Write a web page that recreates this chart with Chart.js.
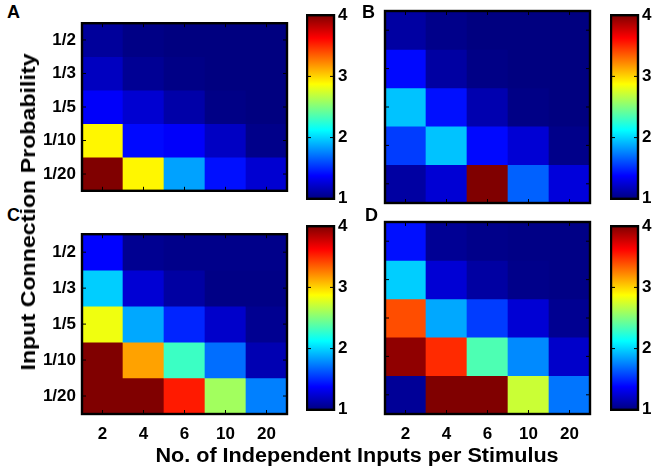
<!DOCTYPE html>
<html><head><meta charset="utf-8">
<script src="https://cdn.jsdelivr.net/npm/chart.js@4.4.0/dist/chart.umd.min.js"></script>
<style>
html,body{margin:0;padding:0;background:#fff;}
#fig{position:relative;width:656px;height:469px;overflow:hidden;font-family:"Liberation Sans",Arial,sans-serif;}
canvas{position:absolute;}
.t{position:absolute;font-weight:bold;color:#000;white-space:nowrap;z-index:5;line-height:1;}
</style></head>
<body>
<div id="fig">
  <canvas id="hA"></canvas><canvas id="cA"></canvas>
  <canvas id="hB"></canvas><canvas id="cB"></canvas>
  <canvas id="hC"></canvas><canvas id="cC"></canvas>
  <canvas id="hD"></canvas><canvas id="cD"></canvas>
  <div class="t" style="left:7px;top:3px;font-size:18px;">A</div>
  <div class="t" style="left:362px;top:3px;font-size:18px;">B</div>
  <div class="t" style="left:7px;top:206px;font-size:18px;">C</div>
  <div class="t" style="left:365px;top:206px;font-size:18px;">D</div>
  <div class="t" id="ytitle" style="font-size:20px;left:28px;top:212px;transform:translate(-50%,-50%) rotate(-90deg) scaleX(1.16);">Input Connection Probability</div>
  <div class="t" id="xtitle" style="font-size:20px;left:357px;top:455px;transform:translate(-50%,-50%) scaleX(1.08);">No. of Independent Inputs per Stimulus</div>
</div>
<script>
// ---- data ----
const columnLabels = ['2', '4', '6', '10', '20'];
const rowLabels = ['1/2', '1/3', '1/5', '1/10', '1/20']; // top to bottom
const colorbarTicks = [1, 2, 3, 4];

const panelA = [
  [1.08, 1.02, 1.00, 1.00, 1.00],
  [1.19, 1.06, 1.02, 1.00, 1.00],
  [1.36, 1.24, 1.12, 1.02, 1.00],
  [2.90, 1.40, 1.36, 1.20, 1.03],
  [4.00, 2.90, 1.85, 1.42, 1.24]
];
const panelB = [
  [1.10, 1.03, 1.00, 1.00, 1.00],
  [1.40, 1.10, 1.02, 1.00, 1.00],
  [1.95, 1.42, 1.14, 1.02, 1.00],
  [1.55, 1.95, 1.40, 1.25, 1.03],
  [1.10, 1.25, 4.00, 1.66, 1.27]
];
const panelC = [
  [1.38, 1.05, 1.03, 1.03, 1.03],
  [1.98, 1.25, 1.10, 1.02, 1.02],
  [2.83, 1.87, 1.48, 1.22, 1.05],
  [4.00, 3.15, 2.30, 1.70, 1.15],
  [4.00, 4.00, 3.55, 2.60, 1.75]
];
const panelD = [
  [1.42, 1.06, 1.03, 1.02, 1.02],
  [1.98, 1.25, 1.10, 1.03, 1.02],
  [3.40, 1.87, 1.55, 1.25, 1.05],
  [3.95, 3.50, 2.35, 1.78, 1.22],
  [1.07, 4.00, 4.00, 2.72, 1.72]
];

// ---- helpers ----
const vmin = colorbarTicks[0], vmax = colorbarTicks[colorbarTicks.length - 1];
function clamp(x){ return Math.max(0, Math.min(1, x)); }
function jet(t){
  const r = clamp(1.5 - Math.abs(4*t - 3));
  const g = clamp(1.5 - Math.abs(4*t - 2));
  const b = clamp(1.5 - Math.abs(4*t - 1));
  return `rgb(${Math.round(r*255)},${Math.round(g*255)},${Math.round(b*255)})`;
}
function valColor(v){ return jet(clamp((v - vmin) / (vmax - vmin))); }

const FONT = { family: '"Liberation Sans", Arial, sans-serif', size: 17, weight: 'bold' };

const framePlugin = {
  id: 'frame',
  afterDatasetsDraw(chart, args, opts) {
    const { ctx, chartArea: a, scales } = chart;
    ctx.save();
    ctx.strokeStyle = '#000';
    ctx.lineWidth = 1;
    const L = 4;
    if (opts.xTicks) {
      scales.x.ticks.forEach((t, i) => {
        const x = scales.x.getPixelForTick(i);
        ctx.beginPath();
        ctx.moveTo(x, a.bottom); ctx.lineTo(x, a.bottom - L);
        ctx.moveTo(x, a.top); ctx.lineTo(x, a.top + L);
        ctx.stroke();
      });
    }
    scales.y.ticks.forEach((t, i) => {
      const y = scales.y.getPixelForValue(t.value);
      ctx.beginPath();
      ctx.moveTo(a.left, y); ctx.lineTo(a.left + L, y);
      ctx.moveTo(a.right, y); ctx.lineTo(a.right - L, y);
      ctx.stroke();
    });
    ctx.lineWidth = 2.4;
    ctx.strokeRect(a.left, a.top, a.right - a.left, a.bottom - a.top);
    ctx.restore();
  }
};

function place(id, left, top, w, h){
  const c = document.getElementById(id);
  c.width = w; c.height = h;
  c.style.left = left + 'px'; c.style.top = top + 'px';
  c.style.width = w + 'px'; c.style.height = h + 'px';
  return c;
}

// plot area geometry
const PW = 205, PH = 192, YW = 50, PADT = 4, PADR = 4;

function heatmap(id, values, plotLeft, plotTop, showY, showX){
  const xH = showX ? 34 : 4;
  const c = place(id, plotLeft - YW, plotTop - PADT, YW + PW + PADR, PADT + PH + xH);
  const datasets = rowLabels.map((rl, i) => ({
    label: rl,
    data: columnLabels.map(() => [i, i + 1]),
    backgroundColor: values[i].map(valColor),
    borderWidth: 0,
    grouped: false,
    barPercentage: 1,
    categoryPercentage: 1
  }));
  return new Chart(c, {
    type: 'bar',
    data: { labels: columnLabels, datasets },
    options: {
      responsive: false, animation: false, devicePixelRatio: 1,
      layout: { padding: { top: PADT, right: PADR, left: 0, bottom: 0 } },
      plugins: { legend: { display: false }, tooltip: { enabled: false }, frame: { xTicks: true } },
      scales: {
        x: {
          type: 'category', offset: true,
          grid: { display: false, drawTicks: false }, border: { display: false },
          ticks: { display: showX, color: '#000', font: FONT, padding: 10, maxRotation: 0 },
          afterFit(s){ s.height = xH; }
        },
        y: {
          type: 'linear', min: 0, max: rowLabels.length, reverse: true,
          grid: { display: false, drawTicks: false }, border: { display: false },
          afterBuildTicks(s){ s.ticks = rowLabels.map((_, i) => ({ value: i + 0.5 })); },
          ticks: { display: showY, color: '#000', font: FONT, padding: 6,
                   callback: (v, i) => rowLabels[i] },
          afterFit(s){ s.width = YW; }
        }
      }
    },
    plugins: [framePlugin]
  });
}

const CBW = 28, CBYW = 24, CBPAD = 10;
function colorbar(id, left, top){
  const c = place(id, left, top - CBPAD, CBW + CBYW, PH + 2*CBPAD);
  return new Chart(c, {
    type: 'bar',
    data: { labels: ['scale'], datasets: [{
      data: [[vmin, vmax]],
      borderWidth: 0, barPercentage: 1, categoryPercentage: 1,
      backgroundColor(ctx){
        const ch = ctx.chart, a = ch.chartArea;
        if (!a) return valColor(vmin);
        const g = ch.ctx.createLinearGradient(0, a.bottom, 0, a.top);
        const stops = [0, 0.125, 0.375, 0.625, 0.875, 1];
        stops.forEach(s => g.addColorStop(s, jet(s)));
        return g;
      }
    }]},
    options: {
      responsive: false, animation: false, devicePixelRatio: 1,
      layout: { padding: { top: CBPAD, bottom: CBPAD, left: 1, right: 0 } },
      plugins: { legend: { display: false }, tooltip: { enabled: false }, frame: { xTicks: false } },
      scales: {
        x: { display: false, offset: true },
        y: {
          type: 'linear', position: 'right', min: vmin, max: vmax,
          grid: { display: false, drawTicks: false }, border: { display: false },
          afterBuildTicks(s){ s.ticks = colorbarTicks.map(v => ({ value: v })); },
          ticks: { color: '#000', font: FONT, padding: 4, callback: v => String(v) },
          afterFit(s){ s.width = CBYW; }
        }
      }
    },
    plugins: [framePlugin]
  });
}

heatmap('hA', panelA, 82, 11, true, false);
heatmap('hB', panelB, 385, 11, false, false);
heatmap('hC', panelC, 82, 222, true, true);
heatmap('hD', panelD, 385, 222, false, true);
colorbar('cA', 306, 11);
colorbar('cB', 610, 11);
colorbar('cC', 306, 222);
colorbar('cD', 610, 222);
</script>
</body></html>
